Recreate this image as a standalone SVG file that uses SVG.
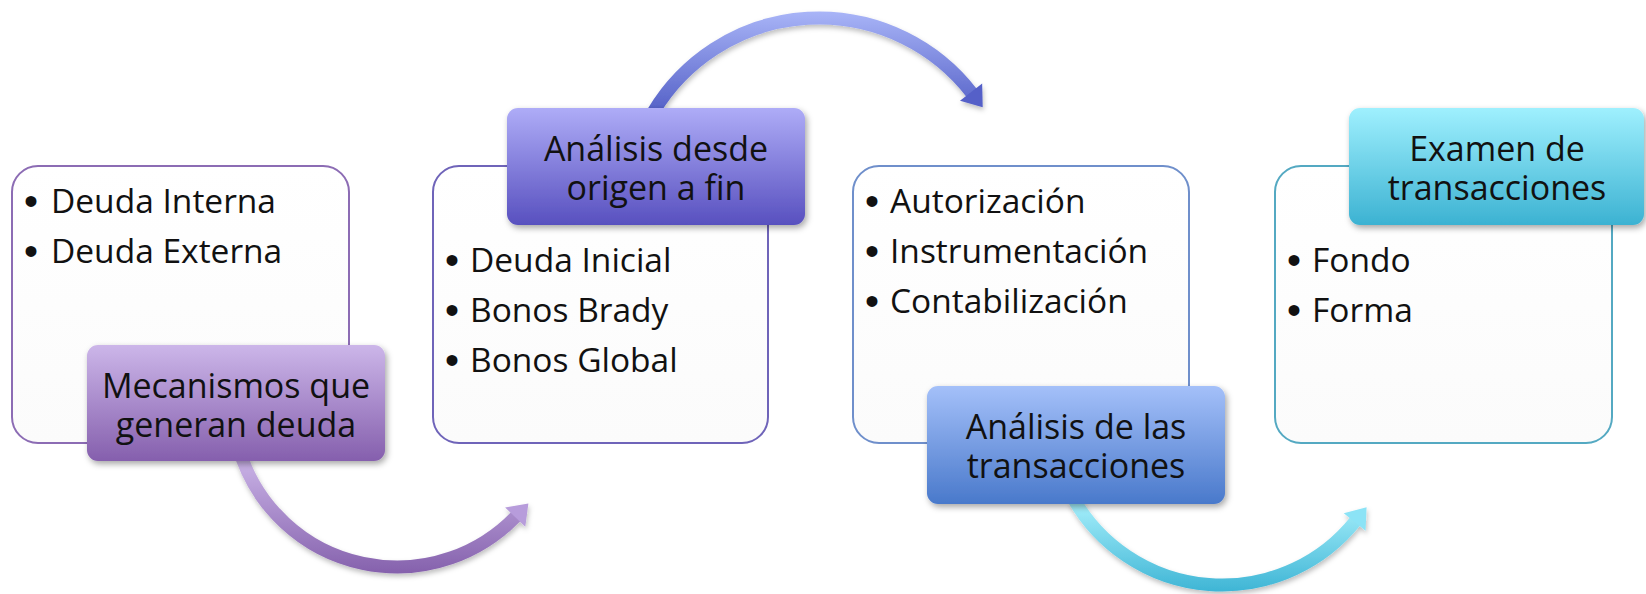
<svg xmlns="http://www.w3.org/2000/svg" width="1646" height="594" viewBox="0 0 1646 594">
<defs>
<style>
.box{fill:url(#boxFill);stroke-width:2}
.lbl{filter:url(#shadow)}
.lt{font-family:"Open Sans","Liberation Sans",sans-serif;font-size:34px;fill:#111;text-anchor:middle}
.bt{font-family:"Open Sans","Liberation Sans",sans-serif;font-size:33.5px;fill:#111}
.bu{font-family:"Liberation Sans",sans-serif;font-size:40px;fill:#111}
.arc{fill:none;stroke-width:13;filter:url(#ashadow)}
</style>
<linearGradient id="boxFill" x1="0" y1="0" x2="0" y2="1"><stop offset="0" stop-color="#ffffff"/><stop offset="1" stop-color="#fbfbfb"/></linearGradient>
<linearGradient id="g1" x1="0" y1="0" x2="0" y2="1"><stop offset="0" stop-color="#CCB6E9"/><stop offset="1" stop-color="#855FAD"/></linearGradient>
<linearGradient id="g2" x1="0" y1="0" x2="0" y2="1"><stop offset="0" stop-color="#AEACF7"/><stop offset="1" stop-color="#5850BF"/></linearGradient>
<linearGradient id="g3" x1="0" y1="0" x2="0" y2="1"><stop offset="0" stop-color="#A4C0F9"/><stop offset="1" stop-color="#4979CB"/></linearGradient>
<linearGradient id="g4" x1="0" y1="0" x2="0" y2="1"><stop offset="0" stop-color="#9FF0FE"/><stop offset="1" stop-color="#3CB2D2"/></linearGradient>
<linearGradient id="a1" gradientUnits="userSpaceOnUse" x1="0" y1="460" x2="0" y2="575"><stop offset="0" stop-color="#C9B2E6"/><stop offset="1" stop-color="#8460AC"/></linearGradient>
<linearGradient id="a2" gradientUnits="userSpaceOnUse" x1="0" y1="12" x2="0" y2="110"><stop offset="0" stop-color="#A8B4F7"/><stop offset="1" stop-color="#5662C8"/></linearGradient>
<linearGradient id="a3" gradientUnits="userSpaceOnUse" x1="0" y1="500" x2="0" y2="592"><stop offset="0" stop-color="#A8F0FC"/><stop offset="1" stop-color="#3EB5D5"/></linearGradient>
<marker id="h1" markerUnits="userSpaceOnUse" markerWidth="24" markerHeight="32" refX="1" refY="14" orient="auto" overflow="visible"><path d="M0,0 L19,14 L0,28 Z" fill="#B79CDB"/></marker>
<marker id="h2" markerUnits="userSpaceOnUse" markerWidth="24" markerHeight="32" refX="1" refY="14" orient="auto" overflow="visible"><path d="M0,0 L19,14 L0,28 Z" fill="#5460C8"/></marker>
<marker id="h3" markerUnits="userSpaceOnUse" markerWidth="24" markerHeight="32" refX="1" refY="14" orient="auto" overflow="visible"><path d="M0,0 L19,14 L0,28 Z" fill="#8CE3F6"/></marker>
<filter id="shadow" x="-10%" y="-10%" width="125%" height="135%"><feDropShadow dx="2" dy="3" stdDeviation="3" flood-color="#000" flood-opacity="0.35"/></filter>
<filter id="ashadow" x="-10%" y="-10%" width="125%" height="135%"><feDropShadow dx="1" dy="3" stdDeviation="2.5" flood-color="#000" flood-opacity="0.25"/></filter>
</defs>
<rect width="1646" height="594" fill="#ffffff"/>

<g id="connectors">
<path class="arc" stroke="url(#a1)" marker-end="url(#h1)" d="M242,458.4 A165,165 0 0 0 515.9,516.4"/>
<path class="arc" stroke="url(#a2)" marker-end="url(#h2)" d="M653.6,111.6 A193,193 0 0 1 971.7,92.9"/>
<path class="arc" stroke="url(#a3)" marker-end="url(#h3)" d="M1073.9,499.5 A171,171 0 0 0 1355.3,521.2"/>
</g>

<g id="box1">
<rect class="box" x="12" y="166" width="337" height="277" rx="26" stroke="#8C6CB4"/>
<text class="bu" x="24" y="215">•</text><text class="bt" x="51" y="213">Deuda Interna</text>
<text class="bu" x="24" y="265">•</text><text class="bt" x="51" y="263">Deuda Externa</text>
</g>
<g id="box2">
<rect class="box" x="433" y="166" width="335" height="277" rx="26" stroke="#6F64B9"/>
<text class="bu" x="445" y="274">•</text><text class="bt" x="470" y="272">Deuda Inicial</text>
<text class="bu" x="445" y="324">•</text><text class="bt" x="470" y="322">Bonos Brady</text>
<text class="bu" x="445" y="374">•</text><text class="bt" x="470" y="372">Bonos Global</text>
</g>
<g id="box3">
<rect class="box" x="853" y="166" width="336" height="277" rx="26" stroke="#6F8FCB"/>
<text class="bu" x="865" y="215">•</text><text class="bt" x="890" y="213">Autorización</text>
<text class="bu" x="865" y="265">•</text><text class="bt" x="890" y="263">Instrumentación</text>
<text class="bu" x="865" y="315">•</text><text class="bt" x="890" y="313">Contabilización</text>
</g>
<g id="box4">
<rect class="box" x="1275" y="166" width="337" height="277" rx="26" stroke="#54A9C2"/>
<text class="bu" x="1287" y="274">•</text><text class="bt" x="1312" y="272">Fondo</text>
<text class="bu" x="1287" y="324">•</text><text class="bt" x="1312" y="322">Forma</text>
</g>

<g id="label1">
<rect class="lbl" x="87" y="345" width="298" height="116" rx="11" fill="url(#g1)"/>
<text class="lt" x="236" y="398">Mecanismos que</text>
<text class="lt" x="236" y="437">generan deuda</text>
</g>
<g id="label2">
<rect class="lbl" x="507" y="108" width="298" height="117" rx="11" fill="url(#g2)"/>
<text class="lt" x="656" y="161">Análisis desde</text>
<text class="lt" x="656" y="200">origen a fin</text>
</g>
<g id="label3">
<rect class="lbl" x="927" y="386" width="298" height="118" rx="11" fill="url(#g3)"/>
<text class="lt" x="1076" y="439">Análisis de las</text>
<text class="lt" x="1076" y="478">transacciones</text>
</g>
<g id="label4">
<rect class="lbl" x="1349" y="108" width="295" height="117" rx="11" fill="url(#g4)"/>
<text class="lt" x="1497" y="161">Examen de</text>
<text class="lt" x="1497" y="200">transacciones</text>
</g>
</svg>
